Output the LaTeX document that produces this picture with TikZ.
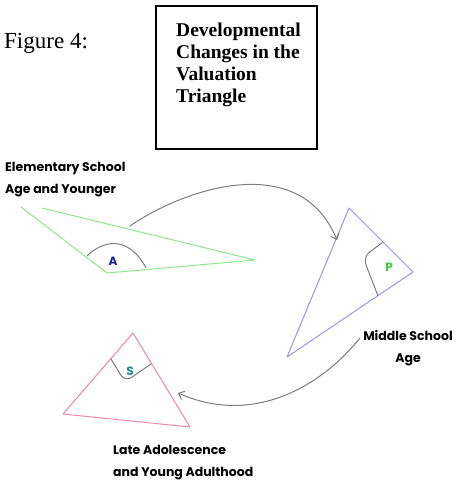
\documentclass[tikz,border=0pt]{standalone}
\usepackage{fontspec}
\setmainfont{Liberation Serif}
\newfontfamily\handfont{Poppins}
\usepackage{tikz}
\usetikzlibrary{arrows.meta, positioning}

\definecolor{triGreen}{RGB}{140,230,140}
\definecolor{triBlue}{RGB}{150,150,235}
\definecolor{triPink}{RGB}{235,135,175}
\definecolor{arrowGray}{RGB}{125,125,125}
\definecolor{letterNavy}{RGB}{30,30,150}
\definecolor{letterGreen}{RGB}{60,205,60}
\definecolor{letterTeal}{RGB}{30,140,150}

\begin{document}
\begin{tikzpicture}[
    x=1pt, y=-1pt,
    stage/.style={font=\handfont\bfseries\fontsize{12.5}{22}\selectfont, inner sep=0pt},
    side/.style={line width=1pt, line join=round},
    anglemark/.style={line width=1pt, draw=arrowGray, rounded corners=8pt},
    letter/.style={font=\handfont\bfseries\fontsize{12}{14}\selectfont, inner sep=0pt},
    arrowstyle/.style={-{Straight Barb[length=5pt, width=9pt]}, line width=1pt, draw=arrowGray},
]
    \useasboundingbox (0,0) rectangle (455,488);

    % Caption and title box
    \node[anchor=base west, inner sep=0pt, font=\fontsize{23}{27}\selectfont] (fig) at (4,48) {Figure 4:};
    \node[draw, line width=1.5pt, anchor=north west, minimum width=161pt, minimum height=143pt,
          inner sep=0pt] (titlebox) at (155,5) {};
    \node[anchor=north west, align=left, inner sep=0pt, font=\bfseries\fontsize{19.5}{22}\selectfont]
          (title) at ([xshift=21pt, yshift=-18pt]titlebox.north west)
          {Developmental\\Changes in the\\Valuation\\Triangle};

    % Elementary school triangle (corner left open)
    \coordinate (gTopA) at (21,207);
    \coordinate (gTopB) at (42,208);
    \coordinate (gLow) at (107,273);
    \coordinate (gTip) at (255,260);
    \draw[side, triGreen] (gTopA) -- (gLow) -- (gTip) -- (gTopB);
    \draw[anglemark, rounded corners=0pt] (87,256) .. controls (102,241) and (128,234) .. (146,268);
    \node[letter, text=letterNavy] (lA) at (113,261) {A};
    \node[stage, anchor=west, align=left] (elem) at (5,180) {Elementary School\\Age and Younger};

    % Middle school triangle
    \coordinate (bTop) at (349,208);
    \coordinate (bRight) at (413,272);
    \coordinate (bLow) at (287,357);
    \draw[side, triBlue] (bTop) -- (bRight) -- (bLow) -- cycle;
    \draw[anglemark] (383,242) -- (363,257) -- (378,296);
    \node[letter, text=letterGreen] (lP) at (389,267) {P};
    \node[stage, align=center] (middle) at (408,348) {Middle School\\Age};

    % Late adolescence triangle
    \coordinate (pTop) at (133,333);
    \coordinate (pLeft) at (63,414);
    \coordinate (pRight) at (190,427);
    \draw[side, triPink] (pTop) -- (pLeft) -- (pRight) -- cycle;
    \draw[anglemark] (111,359) -- (125,382) -- (151,364);
    \node[letter, text=letterTeal] (lS) at (130,371) {S};
    \node[stage, anchor=west, align=left] (late) at (113,463) {Late Adolescence\\and Young Adulthood};

    % Arrows between stages
    \coordinate (arrStartA) at (130,226);
    \coordinate (arrEndA) at (337,240);
    \draw[arrowstyle] (arrStartA) .. controls (185,188) and (300,150) .. (arrEndA);
    \coordinate (arrStartB) at (360,338);
    \coordinate (arrEndB) at (178,393);
    \draw[arrowstyle] (arrStartB) .. controls (318,390) and (250,425) .. (arrEndB);

\end{tikzpicture}
\end{document}
